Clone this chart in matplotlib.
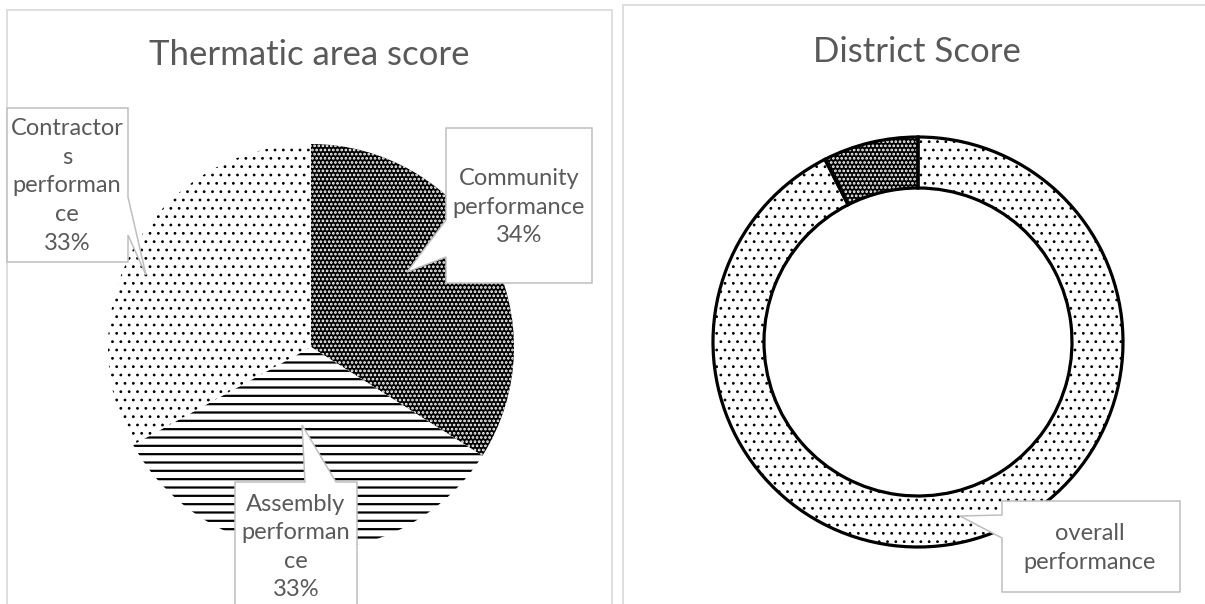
import matplotlib
matplotlib.use("Agg")
import matplotlib.pyplot as plt
from matplotlib.patches import Polygon, Rectangle

plt.rcParams['font.family'] = ['Lato', 'DejaVu Sans']

# data
theme_names = ["Community performance", "Assembly performance", "Contractors performance"]
theme_values = [34, 33, 33]
theme_label_text = ["Community\nperformance", "Assembly\nperforman\nce", "Contractor\ns\nperforman\nce"]

district_names = ["overall performance", ""]
district_values = [92.5, 7.5]

W, H = 1205, 604
text_gray = "#595959"
box_gray = "#bfbfbf"
panel_gray = "#d9d9d9"

fig = plt.figure(figsize=(W / 100, H / 100), dpi=100)
ax = fig.add_axes([0, 0, 1, 1])


def fy(y):
    # image y (top down) -> axes y (bottom up)
    return H - y


def hatch_lw(patches, lws):
    for p, lw in zip(patches, lws):
        if hasattr(p, "set_hatch_linewidth"):
            p.set_hatch_linewidth(lw)


# panel frames
ax.add_patch(Rectangle((6.5, fy(650)), 605, 640, fill=False, edgecolor=panel_gray, lw=1.2, zorder=0))
ax.add_patch(Rectangle((623, fy(650)), 640, 645, fill=False, edgecolor=panel_gray, lw=1.2, zorder=0))

# left pie
wedges, _ = ax.pie(theme_values, startangle=90, counterclock=False,
                   center=(311, fy(347)), radius=203,
                   colors=["black", "white", "white"],
                   wedgeprops=dict(linewidth=0))
hatches = ["....", "--", ".."]
edge_cols = ["white", "black", "black"]
for w, h, ec in zip(wedges, hatches, edge_cols):
    w.set_hatch(h)
    w.set_edgecolor(ec)
    w.set_linewidth(0)
hatch_lw(wedges, [1.3, 1.6, 0.8])

# right donut
dw, _ = ax.pie(district_values, startangle=90, counterclock=False,
               center=(918, fy(342)), radius=205,
               colors=["white", "black"],
               wedgeprops=dict(width=51, linewidth=0))
for w, h, ec in zip(dw, ["..", "...."], ["black", "white"]):
    w.set_hatch(h)
    w.set_edgecolor(ec)
    w.set_linewidth(0)
hatch_lw(dw, [0.8, 1.3])
ax.pie(district_values, startangle=90, counterclock=False,
       center=(918, fy(342)), radius=205,
       wedgeprops=dict(width=51, fill=False, edgecolor="black", linewidth=2.3))

# titles
ax.text(309, fy(55), "Thermatic area score", ha="center", va="center",
        fontsize=25, color=text_gray)
ax.text(917, fy(52), "District Score", ha="center", va="center",
        fontsize=25, color=text_gray)

# callout boxes (layout)
boxes = [
    [(446, 128), (592, 128), (592, 283), (446, 283), (446, 257), (407, 272), (446, 220)],
    [(235, 482), (305, 482), (302, 425), (336, 482), (357, 482), (357, 640), (235, 640)],
    [(7, 108), (128, 108), (128, 197), (146, 275), (128, 235), (128, 262), (7, 262)],
    [(1002, 501), (1180, 501), (1180, 592), (1002, 592), (1002, 538), (960, 516), (1002, 515)],
]
for verts in boxes:
    ax.add_patch(Polygon([(x, fy(y)) for x, y in verts], closed=True, facecolor="white",
                         edgecolor=box_gray, lw=1.1, zorder=3))

label_pos = [(519, 207), (296, 547), (67, 186)]
for txt, v, (x, y) in zip(theme_label_text, theme_values, label_pos):
    ax.text(x, fy(y), f"{txt}\n{v}%", ha="center", va="center", fontsize=17,
            color=text_gray, linespacing=1.45, zorder=4)

ax.text(1090, fy(548), "overall\nperformance", ha="center", va="center", fontsize=17,
        color=text_gray, linespacing=1.45, zorder=4)

ax.set_xlim(0, W)
ax.set_ylim(0, H)
ax.set_aspect("equal")
ax.axis("off")

fig.savefig("out.png", dpi=100)
